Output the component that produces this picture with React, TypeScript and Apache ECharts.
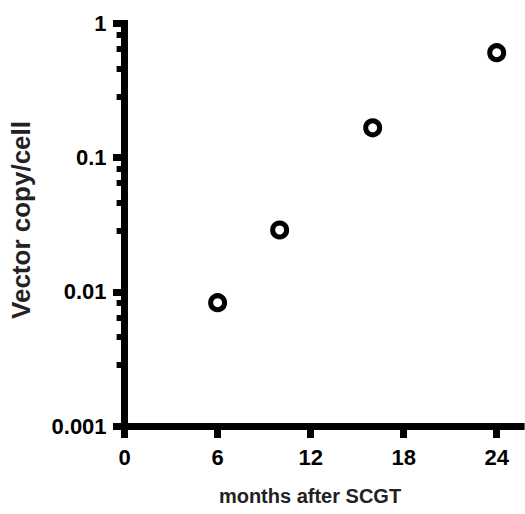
import React, { useEffect, useRef } from "react";
import * as echarts from "echarts";

// Data
const months = [6, 10, 16, 24];
const vectorCopy = [0.0083, 0.0289, 0.167, 0.606];

// Axis ticks
const xTicks = [0, 6, 12, 18, 24];
const xMax = 25.8;
const yTicks = [0.001, 0.01, 0.1, 1];
const yTickLabels = ["0.001", "0.01", "0.1", "1"];
// minor ticks as fractions of the upper decade value
const minorFractions = [0.83, 0.645, 0.46, 0.284];

const xName = "months after SCGT";
const yName = "Vector copy/cell";

const FONT = '"Liberation Sans", Arial, Helvetica, sans-serif';

export default function App() {
  const ref = useRef<HTMLDivElement>(null);

  useEffect(() => {
    if (!ref.current) return;
    const chart = echarts.init(ref.current, null, { renderer: "svg" });

    const minorLogs: number[] = [];
    yTicks.slice(1).forEach((d) => {
      minorFractions.forEach((f) => minorLogs.push(Math.log10(d * f)));
    });

    const option: any = {
      animation: false,
      backgroundColor: "#fff",
      grid: {
        left: 124.6,
        top: 23.5,
        width: 400,
        height: 402.5,
        containLabel: false,
        outerBoundsMode: "none",
      },
      xAxis: {
        type: "value",
        min: 0,
        max: xMax,
        axisLine: {
          show: true,
          onZero: false,
          lineStyle: { color: "#000", width: 7, cap: "butt" },
        },
        axisTick: {
          show: true,
          length: 12,
          inside: false,
          customValues: xTicks,
          lineStyle: { color: "#000", width: 7 },
        },
        axisLabel: {
          customValues: xTicks,
          formatter: (v: number) => String(v),
          fontSize: 22,
          fontWeight: "bold",
          fontFamily: FONT,
          color: "#000",
          margin: 20,
        },
        splitLine: { show: false },
      },
      yAxis: [
        {
          type: "log",
          logBase: 10,
          min: yTicks[0],
          max: yTicks[yTicks.length - 1],
          position: "left",
          axisLine: {
            show: true,
            onZero: false,
            lineStyle: { color: "#000", width: 7, cap: "square" },
          },
          axisTick: {
            show: true,
            length: 11.6,
            inside: false,
            lineStyle: { color: "#000", width: 7 },
          },
          axisLabel: {
            formatter: (v: number) => {
              let best = 0;
              let bd = Infinity;
              yTicks.forEach((t, i) => {
                const d = Math.abs(Math.log10(t) - Math.log10(v));
                if (d < bd) {
                  bd = d;
                  best = i;
                }
              });
              return yTickLabels[best];
            },
            fontSize: 22,
            fontWeight: "bold",
            fontFamily: FONT,
            color: "#000",
            margin: 18,
          },
          splitLine: { show: false },
          minorTick: { show: false },
        },
        {
          type: "value",
          min: Math.log10(yTicks[0]),
          max: Math.log10(yTicks[yTicks.length - 1]),
          position: "left",
          offset: 0,
          axisLine: { show: false },
          axisTick: {
            show: true,
            length: 8,
            inside: false,
            customValues: minorLogs,
            lineStyle: { color: "#000", width: 6 },
          },
          axisLabel: { show: false },
          splitLine: { show: false },
        },
      ],
      graphic: [
        {
          type: "text",
          x: 21,
          y: 220,
          rotation: Math.PI / 2,
          style: {
            text: yName,
            font: `bold 26px ${FONT}`,
            fill: "#222",
            align: "center",
            verticalAlign: "middle",
          },
        },
        {
          type: "text",
          x: 310,
          y: 496,
          style: {
            text: xName,
            font: `bold 20px ${FONT}`,
            fill: "#222",
            align: "center",
            verticalAlign: "middle",
          },
        },
      ],
      series: [
        {
          type: "scatter",
          xAxisIndex: 0,
          yAxisIndex: 0,
          data: months.map((m, i) => [m, vectorCopy[i]]),
          symbol: "circle",
          symbolSize: 14,
          itemStyle: {
            color: "#fff",
            borderColor: "#000",
            borderWidth: 5,
            opacity: 1,
          },
          z: 5,
        },
      ],
    };

    chart.setOption(option);
    return () => chart.dispose();
  }, []);

  return (
    <div
      ref={ref}
      style={{ position: "fixed", left: 0, top: 0, width: 525, height: 514, background: "#fff" }}
    />
  );
}
